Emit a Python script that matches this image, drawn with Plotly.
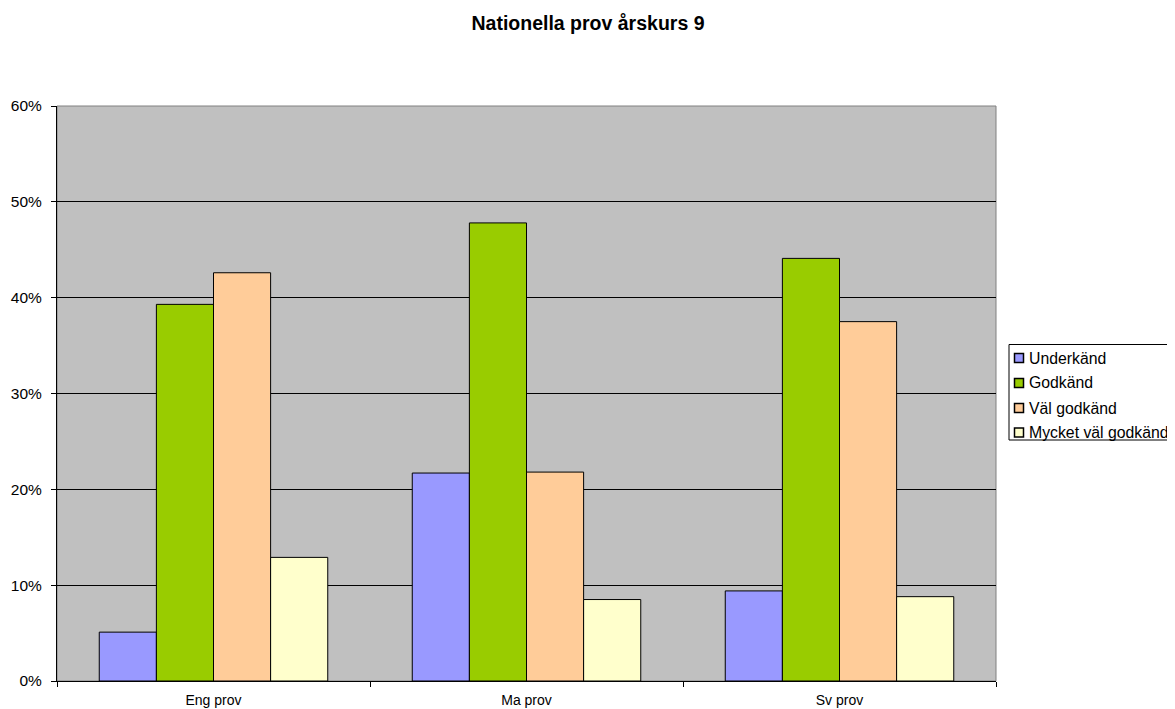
import plotly.graph_objects as go

categories = ["Eng prov", "Ma prov", "Sv prov"]
series_names = ["Underkänd", "Godkänd", "Väl godkänd", "Mycket väl godkänd"]
underkand = [0.051, 0.217, 0.094]
godkand = [0.393, 0.478, 0.441]
val_godkand = [0.426, 0.218, 0.375]
mycket_val = [0.129, 0.085, 0.088]
colors = ["#9999FF", "#99CC00", "#FFCC99", "#FFFFCC"]
y_ticks = [0, 0.1, 0.2, 0.3, 0.4, 0.5, 0.6]
y_tick_labels = ["0%", "10%", "20%", "30%", "40%", "50%", "60%"]

# layout geometry (page pixels; page has an 8px body margin)
W, H = 1167, 701
PL, PR, PT, PB = 49, 988, 98, 673  # plot area in figure pixels

def px_x(x):
    return (x - 8 - PL) / (PR - PL)

def px_y(y):
    return (PB - (y - 8)) / (PB - PT)

fig = go.Figure()
for name, vals, col in zip(series_names, [underkand, godkand, val_godkand, mycket_val], colors):
    fig.add_trace(go.Bar(x=categories, y=vals, name=name, showlegend=False,
                         marker=dict(color=col, line=dict(color="black", width=1))))

fig.update_layout(
    width=W, height=H,
    margin=dict(l=PL, r=W - PR, t=PT, b=H - PB, autoexpand=False),
    paper_bgcolor="white",
    plot_bgcolor="#C0C0C0",
    barmode="group",
    bargap=0.27,
    bargroupgap=0,
    font=dict(family="Liberation Sans, Arial, sans-serif", color="black"),
    title=dict(text="<b>Nationella prov årskurs 9</b>", x=(588 - 8) / W, xref="container", xanchor="center",
               y=1 - (23 - 8) / H, yanchor="middle", font=dict(size=19.5, color="black")),
    showlegend=False,
)
fig.update_xaxes(showline=True, linecolor="black", linewidth=1, ticks="outside", tickson="boundaries",
                 ticklen=5, tickcolor="black", tickfont=dict(size=14), showgrid=False, ticklabelstandoff=6,
                 automargin=False)
fig.update_yaxes(range=[0, 0.6], tickvals=y_ticks, ticktext=y_tick_labels, showline=True, linecolor="black",
                 linewidth=1, ticks="outside", ticklen=5, tickcolor="black", gridcolor="black", gridwidth=1,
                 tickfont=dict(size=15.5), zeroline=False, ticklabelstandoff=6, automargin=False)
fig.add_shape(type="rect", xref="paper", yref="paper", x0=0, x1=1, y0=0, y1=1,
              line=dict(color="#808080", width=1), layer="below")

# custom legend (box, swatches, labels)
fig.add_shape(type="rect", xref="paper", yref="paper", x0=px_x(1009), x1=px_x(1190),
              y0=px_y(440), y1=px_y(344.5), line=dict(color="black", width=1), fillcolor="white")
row_y = [358, 383, 408, 432.5]
for name, col, ry in zip(series_names, colors, row_y):
    fig.add_shape(type="rect", xref="paper", yref="paper", x0=px_x(1014.5), x1=px_x(1023.5),
                  y0=px_y(ry + 4.5), y1=px_y(ry - 4.5), line=dict(color="black", width=1.5), fillcolor=col)
    fig.add_annotation(text=name, xref="paper", yref="paper", x=px_x(1027), y=px_y(ry),
                       xanchor="left", yanchor="middle", showarrow=False, font=dict(size=15.8, color="black"))

fig.write_html("out.html")
